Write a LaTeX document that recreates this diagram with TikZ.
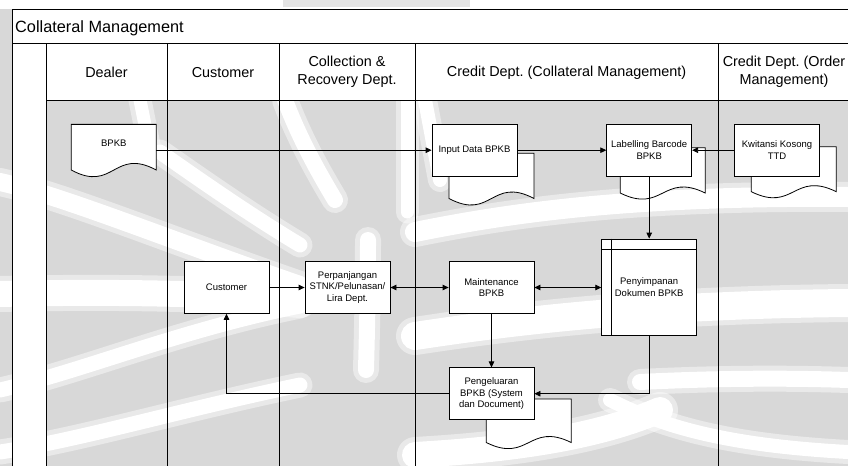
\documentclass[tikz,border=0pt]{standalone}
\usepackage{fontspec}
\setmainfont{Liberation Sans}
\usetikzlibrary{arrows.meta}

\definecolor{wmgray}{RGB}{216,216,216}

\tikzset{
  proc/.style={draw=black, line width=0.8pt, fill=white, minimum width=85pt,
    minimum height=51.7pt, inner sep=1pt, align=center,
    font=\fontsize{9.5}{11.8}\selectfont},
  docbox/.style={minimum width=85pt, minimum height=#1, inner sep=0pt, outer sep=0pt},
  lbl/.style={align=center, inner sep=0pt, font=\fontsize{9.5}{11.8}\selectfont},
  lanehead/.style={align=center, inner sep=0pt, font=\fontsize{14.4}{18}\selectfont},
  frameline/.style={line width=0.9pt},
  conn/.style={line width=0.8pt},
  arr/.style={conn, -{Triangle[length=6pt,width=5.5pt]}},
  darr/.style={conn, {Triangle[length=6pt,width=5.5pt]}-{Triangle[length=6pt,width=5.5pt]}},
  docline/.style={draw=black, line width=0.8pt, fill=white},
  wm/.style={white, line cap=round, line width=#1},
  wmhalo/.style={white, opacity=0.45, line cap=round, line width=#1},
}

% document symbol drawn around an (invisible) node: flat top, wavy bottom
\newcommand{\docoutline}[2]{%
  \filldraw[docline] (#1.north west) -- (#1.north east) -- (#1.south east)
    .. controls ([yshift=#2]#1.south) and ([yshift=-#2]#1.south) .. (#1.south west) -- cycle;}

% light band of the background emblem, with a soft rim
\newcommand{\wmband}[2]{%
  \draw[wmhalo=#1+10pt] #2;
  \draw[wm=#1] #2;}

\begin{document}
\begin{tikzpicture}[x=1pt,y=-1pt]
\useasboundingbox (0,0) rectangle (848,466);
\clip (0,0) rectangle (848,466);

% ---- background emblem ----
\fill[wmgray] (0,0) rectangle (848,466);
\wmband{18pt}{(0,182) .. controls (60,195) and (170,240) .. (300,285)}
\wmband{26pt}{(0,294) .. controls (80,292) and (200,292) .. (300,300)}
\wmband{15pt}{(0,390) .. controls (80,372) and (180,330) .. (300,306)}
\wmband{15pt}{(0,452) .. controls (80,440) and (180,410) .. (300,385)}
\wmband{15pt}{(160,152) .. controls (200,180) and (250,215) .. (300,245)}
\wmband{13pt}{(140,100) -- (150,150)}
\wmband{16pt}{(285,100) .. controls (300,140) and (320,175) .. (335,200)}
\wmband{16pt}{(368,240) .. controls (368,290) and (367,330) .. (366,370)}
\wmband{13pt}{(407,100) -- (407,212)}
\wmband{14pt}{(425,100) -- (440,180)}
\wmband{20pt}{(415,232) .. controls (500,215) and (620,195) .. (848,197)}
\wmband{28pt}{(415,336) .. controls (520,320) and (650,305) .. (848,303)}
\wmband{26pt}{(415,455) .. controls (500,450) and (590,440) .. (660,410)}
\wmband{16pt}{(640,382) .. controls (720,378) and (790,378) .. (848,380)}
\wmband{14pt}{(610,400) .. controls (660,425) and (720,445) .. (848,452)}

% ---- pool frame ----
\fill[white] (0,0) rectangle (848,9);
\fill[wmgray!70!white] (283,0) rectangle (470,7);
\fill[white] (12,9) rectangle (851,100);
\fill[white] (12,100) rectangle (46,466);
\draw[frameline] (12,466) -- (12,9) -- (851,9);
\draw[frameline] (12,43) -- (851,43);
\draw[frameline] (46,100) -- (851,100);
\foreach \x in {46,167,279,415,718,851} \draw[frameline] (\x,43) -- (\x,466);

\node[anchor=base west, inner sep=0pt, font=\fontsize{16.3}{20}\selectfont]
  (title) at (15,32.3) {Collateral Management};

\node[lanehead] (hdealer) at (106.5,72.5) {Dealer};
\node[lanehead] (hcust)   at (223,72.5)   {Customer};
\node[lanehead] (hcoll)   at (347,72)     {Collection \&\\Recovery Dept.};
\node[lanehead] (hcredit) at (566.5,72.5) {Credit Dept.\ (Collateral Management)};
\node[lanehead] (horder)  at (784,72)     {Credit Dept.\ (Order\\Management)};

% ---- document symbols ----
\node[docbox=45.7pt] (bpkbdoc) at (113.8,147.2) {};
\docoutline{bpkbdoc}{23pt}
\node[lbl] (bpkb) at (113.8,143.3) {BPKB};

\node[docbox=45.2pt] (inpdoc) at (491.5,175.9) {};
\docoutline{inpdoc}{22.5pt}
\node[docbox=45.3pt] (labdoc) at (662.8,170.4) {};
\docoutline{labdoc}{21pt}
\node[docbox=45pt] (kwidoc) at (793.8,169.2) {};
\docoutline{kwidoc}{21pt}
\node[docbox=43.5pt] (pengdoc) at (528.8,420.8) {};
\docoutline{pengdoc}{21pt}

% ---- process boxes ----
\node[proc] (inp)   at (474.5,150.2) {Input Data BPKB};
\node[proc] (lab)   at (649.2,150.2) {Labelling Barcode\\BPKB};
\node[proc] (kwi)   at (777,150.2)   {Kwitansi Kosong\\TTD};
\node[proc] (cust)  at (226.5,287.5) {Customer};
\node[proc] (perp)  at (347.5,287.5) {Perpanjangan\\STNK/Pelunasan/\\Lira Dept.};
\node[proc] (maint) at (491.5,287.5) {Maintenance\\BPKB};
\node[proc] (peng)  at (491.5,393.7) {Pengeluaran\\BPKB (System\\dan Document)};

% internal storage symbol
\node[proc, minimum width=95pt, minimum height=96pt] (peny) at (649.2,287)
  {Penyimpanan\\Dokumen BPKB};
\draw[conn] ([yshift=-11pt]peny.north west) -- ([yshift=-11pt]peny.north east);
\draw[conn] ([xshift=10pt]peny.north west) -- ([xshift=10pt]peny.south west);

% ---- connectors ----
\draw[arr] (bpkbdoc.east |- inp.west) -- (inp.west);
\draw[arr] (inp.east) -- (lab.west);
\draw[arr] (kwi.west) -- (lab.east);
\draw[arr] (lab.south) -- (peny.north);
\draw[arr] (cust.east) -- (perp.west);
\draw[darr] (perp.east) -- (maint.west);
\draw[darr] (maint.east) -- (maint.east -| peny.west);
\draw[arr] (maint.south) -- (peng.north);
\draw[arr] (peny.south) |- (peng.east);
\draw[arr] (peng.west) -| (cust.south);
\end{tikzpicture}
\end{document}
